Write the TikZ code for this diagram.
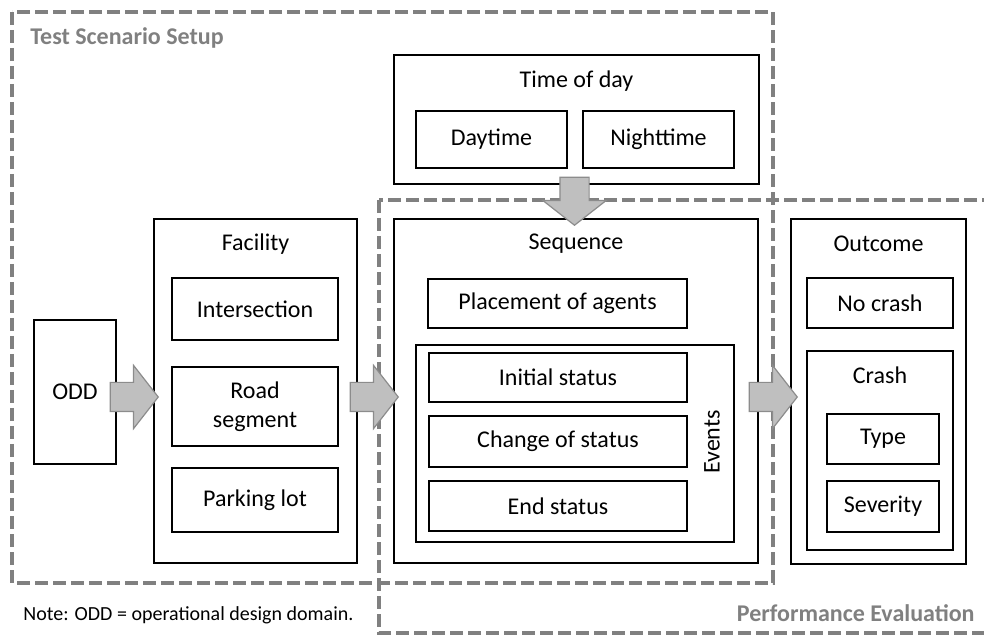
\documentclass[tikz,border=0pt]{standalone}
\usepackage{fontspec}
\setmainfont{Carlito}
\usepackage{tikz}
\usetikzlibrary{shapes.arrows,calc,positioning}
\definecolor{framegray}{RGB}{128,128,128}
\definecolor{arrowfill}{RGB}{191,191,191}
\definecolor{arrowline}{RGB}{140,140,140}
\tikzset{
    box/.style={
           rectangle,
           draw=black, line width=1pt,
           inner sep=0pt,
           align=center,
           font=\fontsize{12}{14.5}\selectfont,
           },
    title/.style={
           inner sep=0pt,
           font=\fontsize{12}{14}\selectfont,
           },
    frame/.style={
           draw=framegray, line width=1.6pt,
           dash pattern=on 6.5pt off 2.5pt,
           },
    frametitle/.style={
           text=framegray,
           inner sep=0pt,
           font=\bfseries\fontsize{12}{14}\selectfont,
           },
    blockarrow/.style={
           single arrow,
           draw=arrowline, fill=arrowfill, line width=0.6pt,
           minimum height=24pt, minimum width=0pt,
           inner xsep=0pt, inner ysep=7pt,
           single arrow head extend=8.5pt,
           single arrow tip angle=104,
           anchor=tip,
           },
}

\begin{document}
\begin{tikzpicture}[x=0.5pt,y=-0.5pt]
 \useasboundingbox (0,0) rectangle (984,635);
 % the two dashed frames
 \draw[frame] (12,12) rectangle (773,583);
 \draw[frame] (379,200) rectangle (1010,633);
 \node[frametitle, anchor=west] (tsslabel) at (30,38) {Test Scenario Setup};
 \node[frametitle, anchor=east] (pelabel) at (975,613) {Performance Evaluation};

 % ODD
 \node[box,
 minimum width=41pt,
 minimum height=72pt] (odd) at (75,392) {ODD};

 % facility
 \node[box,
 minimum width=101.5pt,
 minimum height=172pt] (fac) at (255.5,391) {};
 \node[title] (facT) at (255.5,244) {Facility};
 \node[box,
 minimum width=83pt,
 minimum height=31pt] (inter) at (255,309) {Intersection};
 \node[box,
 minimum width=83pt,
 minimum height=39.5pt] (road) at (255,406.5) {Road\\segment};
 \node[box,
 minimum width=83pt,
 minimum height=32pt] (park) at (255,500) {Parking lot};

 % time of day
 \node[box,
 minimum width=182.5pt,
 minimum height=64.5pt] (tod) at (576.5,119.5) {};
 \node[title] (todT) at (576.5,81) {Time of day};
 \node[box,
 minimum width=75.5pt,
 minimum height=28.5pt] (day) at (491.5,139.5) {Daytime};
 \node[box,
 minimum width=75.5pt,
 minimum height=28.5pt] (night) at (658.5,139.5) {Nighttime};

 % sequence
 \node[box,
 minimum width=182pt,
 minimum height=172pt] (seq) at (576,391) {};
 \node[title] (seqT) at (576,244) {Sequence};
 \node[box,
 minimum width=129.5pt,
 minimum height=24.5pt] (place) at (557.5,303.5) {Placement of agents};
 \node[box,
 minimum width=159pt,
 minimum height=98.5pt] (events) at (575,443.5) {};
 \node[title, rotate=90] (eventsT) at (712,442) {Events};
 \node[box,
 minimum width=129pt,
 minimum height=24.5pt] (init) at (558,377.5) {Initial status};
 \node[box,
 minimum width=129pt,
 minimum height=25.5pt] (change) at (558,441.5) {Change of status};
 \node[box,
 minimum width=129pt,
 minimum height=25pt] (endst) at (558,506) {End status};

 % outcome
 \node[box,
 minimum width=87.5pt,
 minimum height=172.5pt] (out) at (878.5,391.5) {};
 \node[title] (outT) at (878.5,244) {Outcome};
 \node[box,
 minimum width=73pt,
 minimum height=25pt] (nocrash) at (880,303) {No crash};
 \node[box,
 minimum width=73pt,
 minimum height=99.5pt] (crash) at (880,450.5) {};
 \node[title] (crashT) at (880,375) {Crash};
 \node[box,
 minimum width=56pt,
 minimum height=25pt] (type) at (883,439) {Type};
 \node[box,
 minimum width=56pt,
 minimum height=25.5pt] (sev) at (883,506.5) {Severity};

 % the block arrows, tip just inside the next box
 \node[blockarrow] (a1) at ($(fac.west)+(6,6)$) {};
 \node[blockarrow] (a2) at ($(seq.west)+(6,6)$) {};
 \node[blockarrow] (a3) at ($(out.west)+(8,5.5)$) {};
 \node[blockarrow, rotate=-90] (a4) at ($(seq.north)+(-1.5,8)$) {};

 \node[anchor=west, inner sep=0pt,
 font=\fontsize{10}{12}\selectfont] (note) at (23,615)
 {Note: ODD = operational design domain.};
\end{tikzpicture}
\end{document}
